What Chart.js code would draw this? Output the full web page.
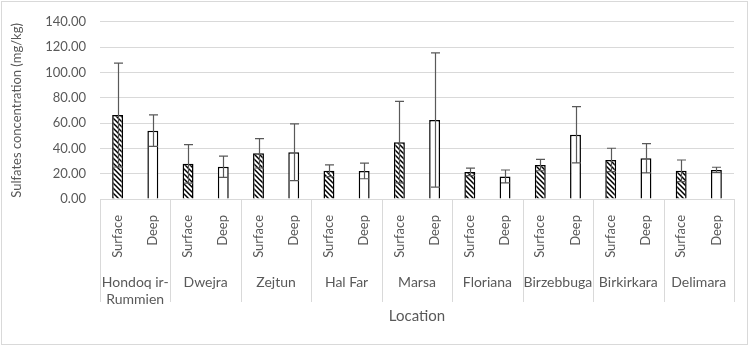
<!DOCTYPE html>
<html>
<head>
<meta charset="utf-8">
<script src="https://cdn.jsdelivr.net/npm/chart.js@4"></script>
<style>
  body { margin: 0; background: #fff; }
  #wrap { width: 753px; height: 347px; position: relative; }
</style>
</head>
<body>
<div id="wrap"><canvas id="sulfate-chart"></canvas></div>
<script>
// values (mg/kg), error = +/- half range
const locations = [['Hondoq ir-', 'Rummien'], 'Dwejra', 'Zejtun', 'Hal Far', 'Marsa', 'Floriana', 'Birzebbuga', 'Birkirkara', 'Delimara'];
const depths = ['Surface', 'Deep'];
const surface = [66.3, 27.8, 36.1, 22.3, 44.9, 21.4, 26.8, 30.9, 22.3];
const surfaceErr = [41.0, 15.2, 11.6, 4.6, 32.2, 3.0, 4.5, 9.2, 8.5];
const deep = [54.0, 25.5, 36.9, 22.2, 62.4, 17.8, 50.8, 32.2, 23.0];
const deepErr = [12.5, 8.4, 22.4, 6.2, 53.0, 5.1, 22.2, 11.6, 2.1];
const yTicks = [0, 20, 40, 60, 80, 100, 120, 140];

const gray = '#595959';
const light = '#d9d9d9';
const font = 'Lato, "Liberation Sans", sans-serif';

// hatch for surface bars (\\\\)
function makeHatch() {
    const c = document.createElement('canvas');
    c.width = 5; c.height = 5;
    const g = c.getContext('2d');
    g.fillStyle = '#fff';
    g.fillRect(0, 0, 5, 5);
    g.strokeStyle = '#000';
    g.lineWidth = 1.5;
    g.beginPath();
    g.moveTo(-1, -1); g.lineTo(6, 6);
    g.moveTo(-1, 4); g.lineTo(1, 6);
    g.moveTo(4, -1); g.lineTo(6, 1);
    g.stroke();
    return g.createPattern(c, 'repeat');
}
const hatch = makeHatch();

const labels = [];
const values = [];
const errors = [];
const fills = [];
locations.forEach(function(loc, i){
    labels.push(depths[0], depths[1]);
    values.push(surface[i], deep[i]);
    errors.push(surfaceErr[i], deepErr[i]);
    fills.push(hatch, '#ffffff');
});

// error bars
const errorBars = {
    id: 'errorBars',
    afterDatasetsDraw(chart) {
        const ctx = chart.ctx;
        const y = chart.scales.y;
        const meta = chart.getDatasetMeta(0);
        ctx.save();
        ctx.strokeStyle = gray;
        ctx.lineWidth = 1.2;
        meta.data.forEach(function(bar, i){
            const x = Math.round(bar.x) + 0.5;
            const top = y.getPixelForValue(values[i] + errors[i]);
            const low = y.getPixelForValue(values[i] - errors[i]);
            ctx.beginPath();
            ctx.moveTo(x, top); ctx.lineTo(x, low);
            ctx.moveTo(x - 4.5, top); ctx.lineTo(x + 4.5, top);
            ctx.moveTo(x - 4.5, low); ctx.lineTo(x + 4.5, low);
            ctx.stroke();
        });
        ctx.restore();
    }
};

// group separators under the axis + outer frame
const frame = {
    id: 'frame',
    beforeDraw(chart) {
        const ctx = chart.ctx;
        ctx.save();
        ctx.fillStyle = '#fff';
        ctx.fillRect(0, 0, chart.width, chart.height);
        ctx.restore();
    },
    afterDraw(chart) {
        const ctx = chart.ctx;
        const x = chart.scales.x;
        const area = chart.chartArea;
        const step = x.width / locations.length;
        ctx.save();
        ctx.strokeStyle = light;
        ctx.lineWidth = 1;
        ctx.beginPath();
        for (let k = 0; k <= locations.length; k++) {
            const px = Math.round(x.left + k * step) + 0.5;
            ctx.moveTo(px, area.bottom);
            ctx.lineTo(px, 302);
        }
        ctx.stroke();
        ctx.strokeRect(1.5, 1.5, 746, 343);
        ctx.restore();
    }
};

new Chart(document.getElementById('sulfate-chart').getContext('2d'), {
    type: 'bar',
    data: {
        labels: labels,
        datasets: [{
            data: values,
            backgroundColor: fills,
            borderColor: '#000',
            borderWidth: 1.5,
            barPercentage: 0.31,
            categoryPercentage: 1
        }]
    },
    options: {
        animation: false,
        responsive: true,
        maintainAspectRatio: false,
        layout: { padding: { left: 9, top: 18, right: 19, bottom: 20 } },
        plugins: {
            legend: { display: false },
            tooltip: { enabled: false }
        },
        scales: {
            y: {
                min: 0,
                max: 140,
                afterBuildTicks(scale) {
                    scale.ticks = yTicks.map(v => ({ value: v }));
                },
                afterFit(scale) { scale.width = 91; },
                grid: { color: light, drawTicks: false },
                border: { display: false },
                ticks: {
                    padding: 14,
                    color: gray,
                    font: { family: font, size: 13 },
                    callback: v => v.toFixed(2)
                },
                title: {
                    display: true,
                    text: 'Sulfates concentration (mg/kg)',
                    color: gray,
                    padding: 0,
                    font: { family: font, size: 13 }
                }
            },
            x: {
                weight: 0,
                afterFit(scale) { scale.height = 59; },
                grid: { display: false },
                border: { display: true, color: light },
                ticks: {
                    autoSkip: false,
                    minRotation: 90,
                    maxRotation: 90,
                    padding: 8,
                    color: gray,
                    font: { family: font, size: 13 }
                }
            },
            x2: {
                type: 'category',
                position: 'bottom',
                weight: 1,
                labels: locations,
                offset: true,
                afterFit(scale) { scale.height = 69; },
                grid: { display: false },
                border: { display: false },
                ticks: {
                    autoSkip: false,
                    maxRotation: 0,
                    padding: 8,
                    color: gray,
                    font: { family: font, size: 14 }
                },
                title: {
                    display: true,
                    text: 'Location',
                    color: gray,
                    padding: { top: 0, bottom: 2 },
                    font: { family: font, size: 15 }
                }
            }
        }
    },
    plugins: [errorBars, frame]
});
</script>
</body>
</html>
